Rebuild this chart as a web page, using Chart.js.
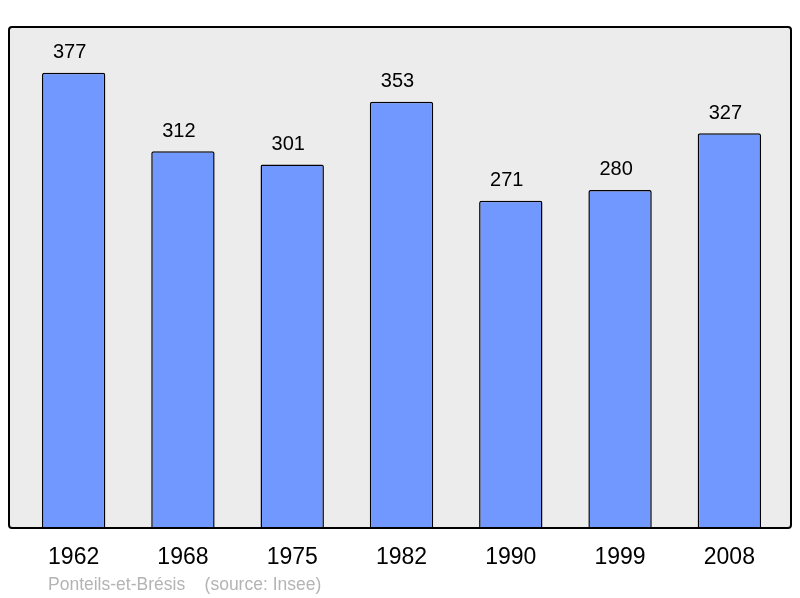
<!DOCTYPE html>
<html>
<head>
<meta charset="utf-8">
<script src="https://cdn.jsdelivr.net/npm/chart.js@4/dist/chart.umd.min.js"></script>
<style>
  body { margin: 0; background: #fff; }
</style>
</head>
<body>
<canvas id="chart" width="800" height="598"></canvas>
<script>
// Population by census year
const years = ['1962', '1968', '1975', '1982', '1990', '1999', '2008'];
const population = [377, 312, 301, 353, 271, 280, 327];
const footerText = 'Ponteils-et-Brésis    (source: Insee)';

// grey panel behind the bars, black frame drawn on top
const panelPlugin = {
    id: 'panel',
    beforeDatasetsDraw(chart) {
        const a = chart.chartArea;
        const ctx = chart.ctx;
        ctx.save();
        ctx.fillStyle = '#ececec';
        ctx.beginPath();
        ctx.roundRect(a.left - 10, a.top, a.right - a.left + 17, a.bottom - a.top, 3);
        ctx.fill();
        ctx.restore();
    },
    afterDatasetsDraw(chart) {
        const a = chart.chartArea;
        const ctx = chart.ctx;
        ctx.save();
        ctx.strokeStyle = '#000';
        ctx.lineWidth = 2;
        ctx.beginPath();
        ctx.roundRect(a.left - 10, a.top, a.right - a.left + 17, a.bottom - a.top, 3);
        ctx.stroke();

        // value labels above each bar
        ctx.fillStyle = '#000';
        ctx.font = '20px "Liberation Sans", Arial, sans-serif';
        ctx.textAlign = 'center';
        ctx.textBaseline = 'middle';
        chart.getDatasetMeta(0).data.forEach((bar, i) => {
            ctx.fillText(population[i], bar.x - 4, bar.y - 20);
        });

        // footer
        ctx.fillStyle = '#b4b4b4';
        ctx.font = '17.5px "Liberation Sans", Arial, sans-serif';
        ctx.textAlign = 'left';
        ctx.fillText(footerText, 48, 585);
        ctx.restore();
    }
};

new Chart(document.getElementById('chart'), {
    type: 'bar',
    data: {
        labels: years,
        datasets: [{
            data: population,
            backgroundColor: '#7098ff',
            borderColor: '#000',
            borderWidth: 1.5,
            borderRadius: { topLeft: 2, topRight: 2 },
            borderSkipped: 'bottom',
            barPercentage: 0.58,
            categoryPercentage: 1
        }]
    },
    options: {
        responsive: false,
        animation: false,
        layout: { padding: { top: 27, left: 19, right: 16, bottom: 0 } },
        plugins: {
            legend: { display: false },
            tooltip: { enabled: false }
        },
        scales: {
            x: {
                grid: { display: false },
                border: { display: false },
                ticks: {
                    color: '#000',
                    padding: 8,
                    font: { family: '"Liberation Sans", Arial, sans-serif', size: 23 }
                },
                afterFit(scale) { scale.height = 70; }
            },
            y: {
                display: false,
                min: 0,
                max: 415
            }
        }
    },
    plugins: [panelPlugin]
});
</script>
</body>
</html>
